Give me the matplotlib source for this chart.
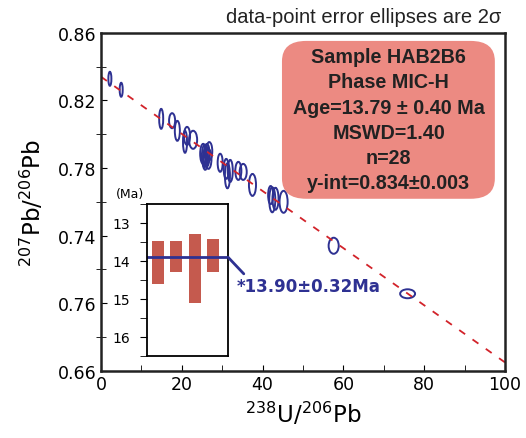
import numpy as np
import matplotlib
matplotlib.use("Agg")
import matplotlib.pyplot as plt
from matplotlib.patches import Ellipse, FancyBboxPatch

# Tera-Wasserburg data (238U/206Pb, 207Pb/206Pb) with 2-sigma ellipse sizes
u_pb = [2.2, 5.0, 14.9, 17.6, 18.9, 20.8, 21.3, 22.8, 25.3, 26.1, 26.6, 25.8, 26.8, 26.2,
        29.5, 31.0, 31.3, 32.0, 34.0, 35.2, 37.5, 42.4, 43.2, 45.2, 57.6, 75.9, 25.6, 42.0]
pb_pb = [0.8328, 0.8263, 0.8091, 0.8080, 0.8020, 0.7955, 0.7990, 0.7967, 0.7884, 0.7866,
         0.7854, 0.7843, 0.7900, 0.7895, 0.7831, 0.7795, 0.7754, 0.7783, 0.7783, 0.7777,
         0.7700, 0.7612, 0.7618, 0.7600, 0.7340, 0.7056, 0.7870, 0.7640]
ell_w = [0.75, 0.75, 1.0, 1.5, 1.25, 1.0, 1.5, 2.0, 1.5, 1.5, 1.5, 1.25, 1.5, 1.25,
         1.25, 1.25, 1.25, 1.25, 1.5, 1.75, 1.75, 1.5, 1.5, 2.0, 2.5, 3.7, 1.25, 1.25]
ell_h = [0.0083, 0.0083, 0.0118, 0.0089, 0.0118, 0.0130, 0.0107, 0.0107, 0.0118, 0.0118,
         0.0118, 0.0107, 0.0107, 0.0095, 0.0107, 0.0118, 0.0148, 0.0130, 0.0107, 0.0095,
         0.0130, 0.0148, 0.0130, 0.0130, 0.0095, 0.0053, 0.0130, 0.0107]

y_int = 0.834
slope = -0.00169

ytick_vals = [0.66, 0.70, 0.74, 0.78, 0.82, 0.86]
ytick_labels = ["0.66", "0.76", "0.74", "0.78", "0.82", "0.86"]
xtick_vals = [0, 20, 40, 60, 80, 100]

# inset: individual ages (Ma)
age_lo = [13.47, 13.47, 13.30, 13.42]
age_hi = [14.60, 14.30, 15.10, 14.30]
wmean = 13.90

info = "Sample HAB2B6\nPhase MIC-H\nAge=13.79 ± 0.40 Ma\nMSWD=1.40\nn=28\ny-int=0.834±0.003"

blue = "#2e3192"
red = "#d2232a"

fig = plt.figure(figsize=(5.26, 4.39), dpi=100)
ax = fig.add_axes([0.192, 0.153, 0.768, 0.770])

for x, y, w, h in zip(u_pb, pb_pb, ell_w, ell_h):
    ax.add_patch(Ellipse((x, y), w, h, fill=False, ec=blue, lw=1.4))

xs = np.array([0, 100])
ax.plot(xs, y_int + slope * xs, ls=(0, (4, 5)), color=red, lw=1.3)

ax.set_xlim(0, 100)
ax.set_ylim(0.66, 0.86)
ax.set_xticks(xtick_vals)
ax.set_xticks(np.arange(10, 100, 10), minor=True)
ax.set_yticks(ytick_vals)
ax.set_yticklabels(ytick_labels)
ax.set_yticks(np.arange(0.68, 0.86, 0.04), minor=True)
ax.tick_params(axis="x", which="both", direction="in", length=4, labelsize=12.5, pad=3)
ax.tick_params(axis="y", which="major", direction="in", length=4, labelsize=12.5)
ax.tick_params(axis="y", which="minor", direction="inout", length=7)
for s in ax.spines.values():
    s.set_linewidth(1.8)
    s.set_color("#222222")

ax.set_xlabel("$^{238}$U/$^{206}$Pb", fontsize=16.5, labelpad=5)
ax.set_ylabel("$^{207}$Pb/$^{206}$Pb", fontsize=16.5, labelpad=8)

fig.text(0.953, 0.961, "data-point error ellipses are 2σ", ha="right", va="center",
         fontsize=14.5, family="Liberation Sans", color="#222222")

box = FancyBboxPatch((0.448, 0.509), 0.527, 0.467, boxstyle="round,pad=0,rounding_size=0.06",
                     transform=ax.transAxes, fc="#ec8a82", ec="none", zorder=3)
ax.add_patch(box)
ax.text(0.712, 0.743, info, transform=ax.transAxes, ha="center", va="center", fontsize=14.2,
        fontweight="bold", family="Liberation Sans", linespacing=1.42, color="#222222", zorder=4)

# inset with individual ages
ins = fig.add_axes([0.2795, 0.187, 0.154, 0.346])
ins.bar(np.arange(4) + 0.6, np.array(age_hi) - np.array(age_lo), bottom=age_lo,
        width=0.65, color="#c55a4e")
ins.axhline(wmean, color=blue, lw=2)
ins.set_xlim(0, 4.4)
ins.set_ylim(16.5, 12.55)
ins.set_xticks([])
ins.set_yticks([13, 14, 15, 16])
ins.set_yticks(np.arange(12.5, 16.6, 0.5), minor=True)
ins.tick_params(axis="y", which="both", direction="out", length=5, labelsize=10, pad=7)
for s in ins.spines.values():
    s.set_linewidth(1.3)
ins.text(-0.38, 1.07, "(Ma)", transform=ins.transAxes, fontsize=9, ha="left", va="center")
ins.annotate("*13.90±0.32Ma", xy=(1.0, wmean), xycoords=("axes fraction", "data"),
             xytext=(6, -14), textcoords="offset points", ha="left", va="top",
             fontsize=12, fontweight="bold", color=blue, annotation_clip=False,
             arrowprops=dict(arrowstyle="-", color=blue, lw=2, shrinkA=0, shrinkB=0,
                             relpos=(0.07, 1.0)))

fig.savefig("out.png", dpi=100)
